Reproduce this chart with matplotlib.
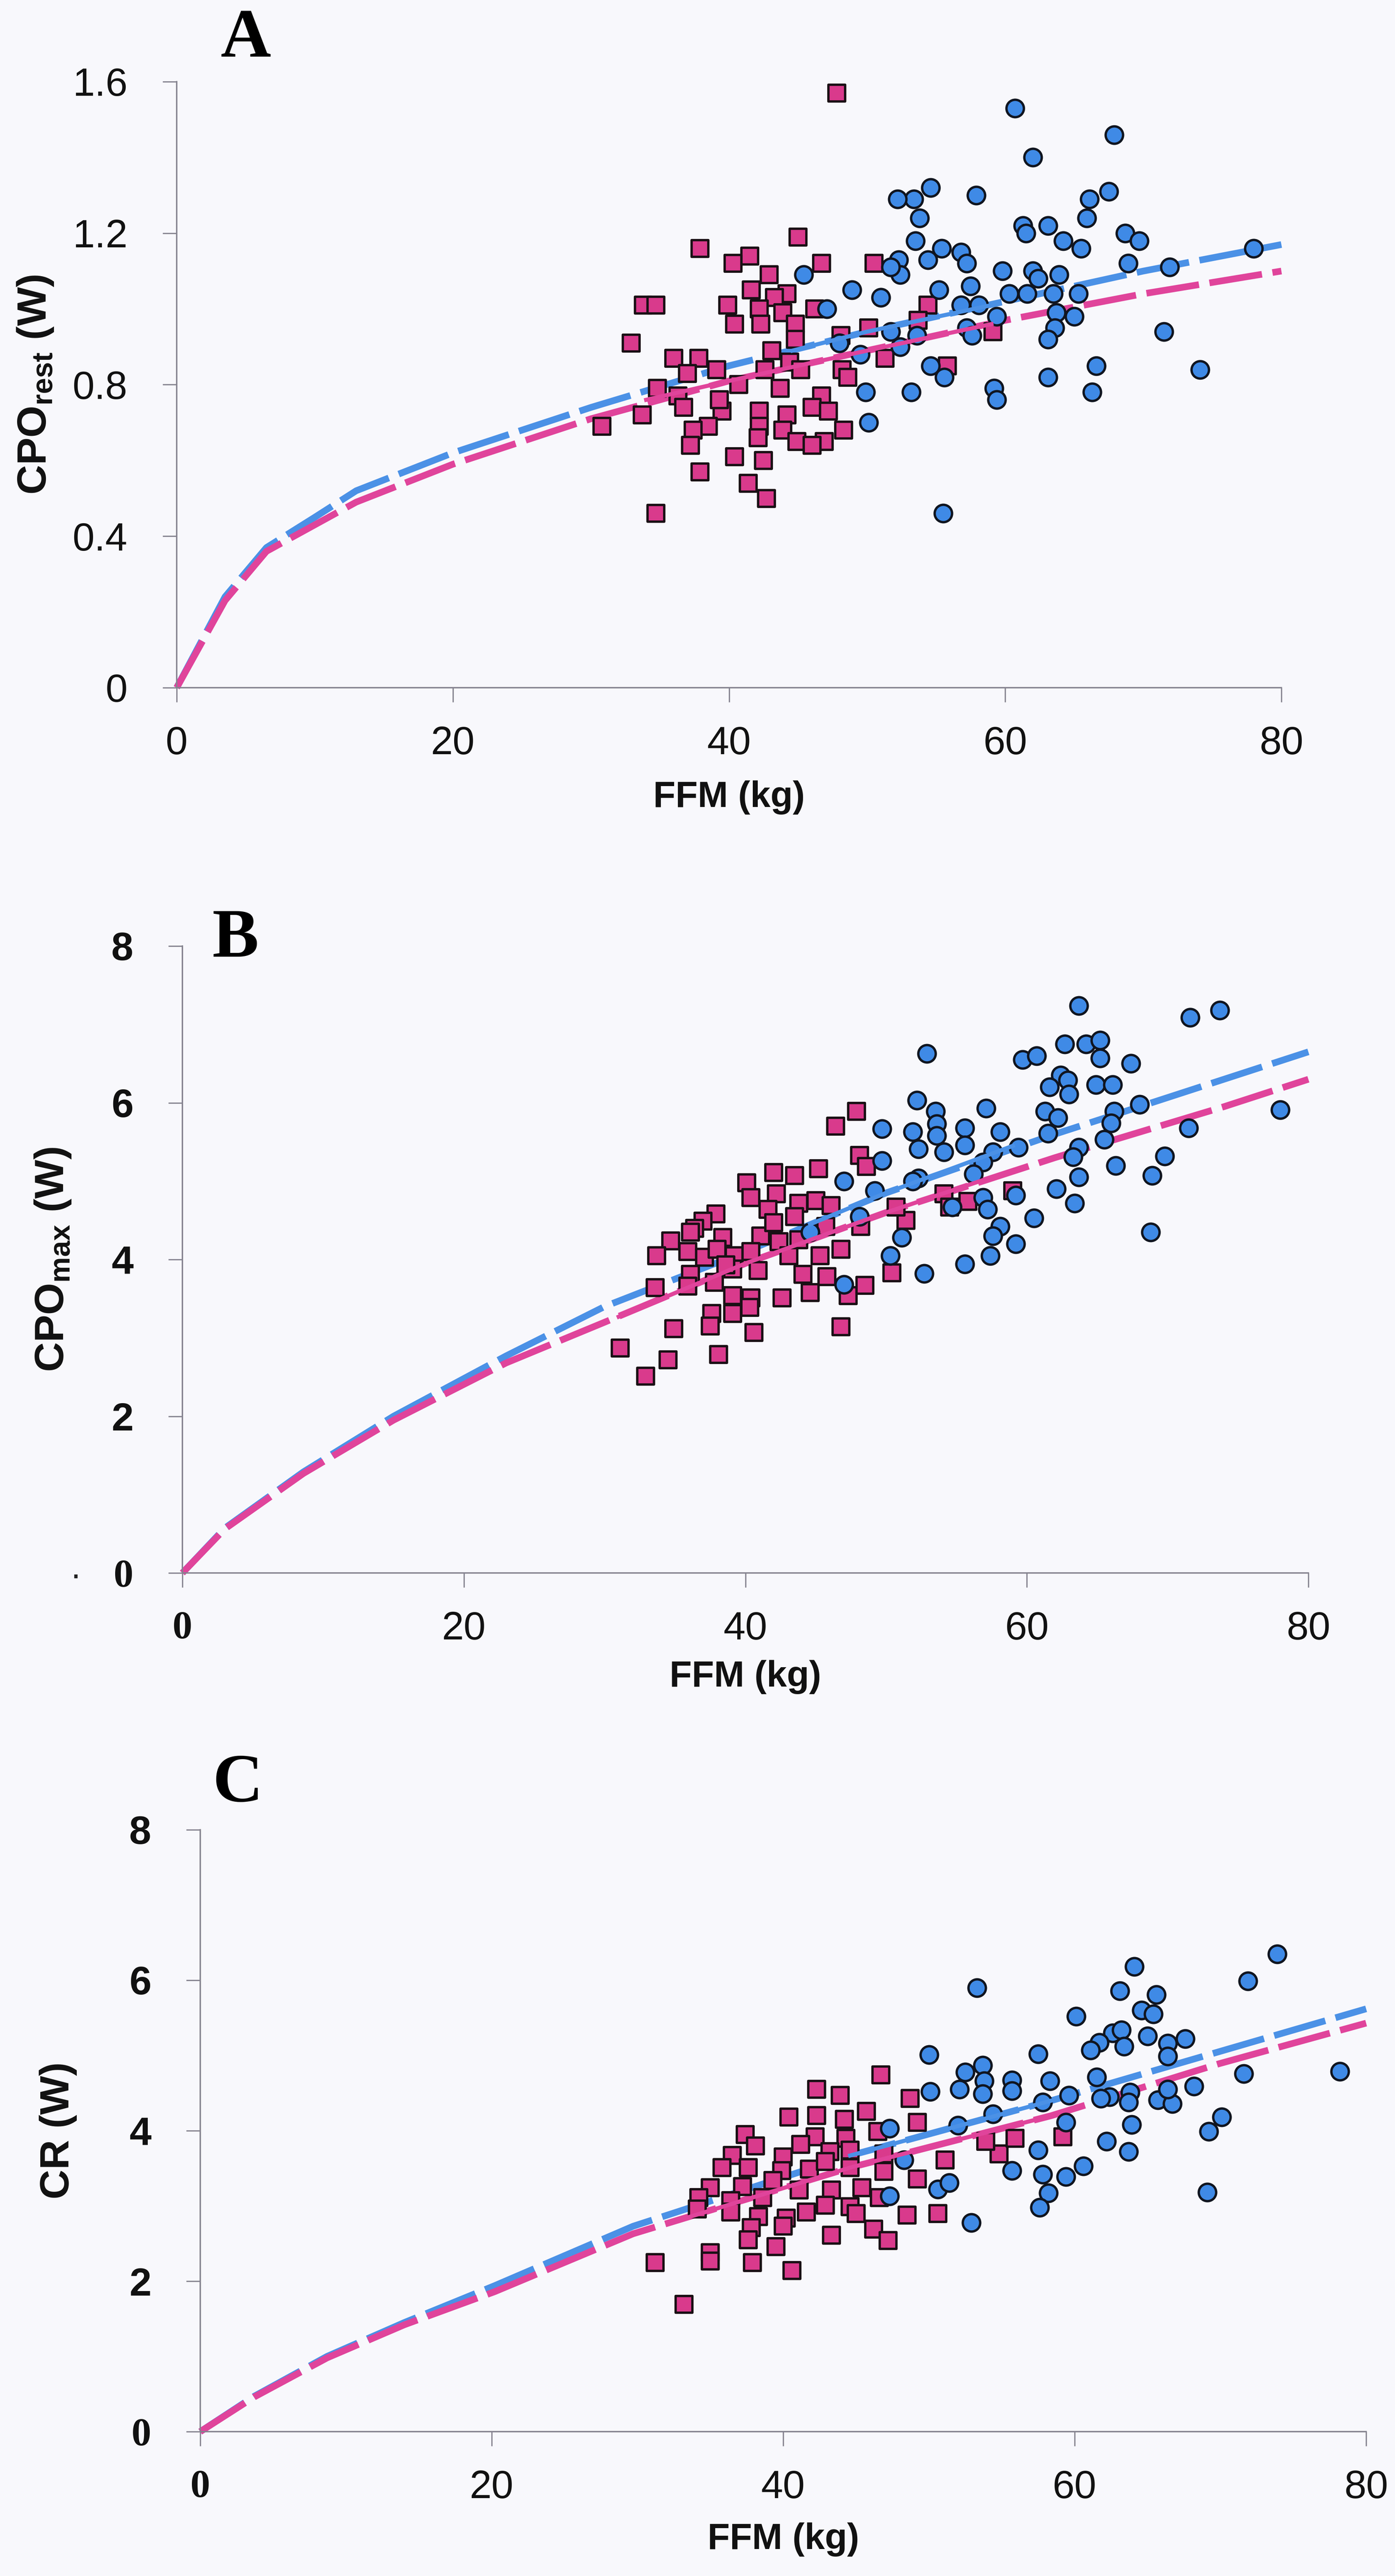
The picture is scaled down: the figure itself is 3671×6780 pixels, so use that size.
import matplotlib
matplotlib.use('Agg')
import matplotlib.pyplot as plt

plt.rcParams['font.family'] = ['Liberation Sans', 'DejaVu Sans']
plt.rcParams['mathtext.fontset'] = 'custom'
plt.rcParams['mathtext.rm'] = 'Liberation Sans:bold'
plt.rcParams['mathtext.it'] = 'Liberation Sans:bold'
plt.rcParams['mathtext.bf'] = 'Liberation Sans:bold'

#_____________________________________________
# panel A : CPO rest vs FFM
a_blue_x = [60.7, 67.9, 62.0, 54.6, 53.4, 52.2, 57.9, 67.5, 66.1, 53.8, 65.9, 61.3, 61.5, 63.1, 68.7, 69.7, 64.2, 65.5,
            53.5, 55.4, 56.8, 52.3, 54.4, 57.2, 68.9, 71.9, 78.0, 59.8, 62.0, 63.9, 62.4, 52.4, 51.7, 45.4, 48.9, 51.0,
            55.2, 57.5, 60.3, 61.6, 63.5, 65.3, 58.1, 56.8, 63.7, 65.0, 59.4, 57.2, 63.6, 51.7, 53.6, 52.4, 57.6, 63.1,
            71.5, 47.1, 54.6, 55.6, 66.6, 63.1, 74.1, 49.9, 53.2, 59.2, 59.4, 66.3, 50.1, 55.5, 49.5, 48.0]
a_blue_y = [1.53, 1.46, 1.40, 1.32, 1.29, 1.29, 1.30, 1.31, 1.29, 1.24, 1.24, 1.22, 1.20, 1.22, 1.20, 1.18, 1.18, 1.16,
            1.18, 1.16, 1.15, 1.13, 1.13, 1.12, 1.12, 1.11, 1.16, 1.10, 1.10, 1.09, 1.08, 1.09, 1.11, 1.09, 1.05, 1.03,
            1.05, 1.06, 1.04, 1.04, 1.04, 1.04, 1.01, 1.01, 0.99, 0.98, 0.98, 0.95, 0.95, 0.94, 0.93, 0.90, 0.93, 0.92,
            0.94, 1.00, 0.85, 0.82, 0.85, 0.82, 0.84, 0.78, 0.78, 0.79, 0.76, 0.78, 0.70, 0.46, 0.88, 0.91]
a_pink_x = [47.8, 37.9, 45.0, 41.5, 40.3, 46.7, 50.5, 42.9, 41.6, 44.2, 43.3, 33.8, 34.7, 39.9, 42.2, 46.2, 43.9, 54.4,
            53.7, 40.4, 42.3, 44.8, 50.1, 48.1, 59.1, 32.9, 44.8, 36.0, 37.8, 43.1, 44.4, 48.2, 51.3, 55.8, 37.0, 39.1,
            42.6, 45.2, 34.8, 40.7, 43.7, 36.3, 46.7, 36.7, 39.5, 42.2, 44.2, 46.0, 47.2, 33.7, 30.8, 38.5, 37.4, 42.2,
            43.9, 48.3, 44.9, 46.9, 37.2, 40.4, 42.5, 37.9, 41.4, 42.7, 34.7, 39.3, 46.0, 48.6, 42.1]
a_pink_y = [1.57, 1.16, 1.19, 1.14, 1.12, 1.12, 1.12, 1.09, 1.05, 1.04, 1.03, 1.01, 1.01, 1.01, 1.00, 1.00, 0.99, 1.01,
            0.97, 0.96, 0.96, 0.96, 0.95, 0.93, 0.94, 0.91, 0.92, 0.87, 0.87, 0.89, 0.86, 0.84, 0.87, 0.85, 0.83, 0.84,
            0.84, 0.84, 0.79, 0.80, 0.79, 0.77, 0.77, 0.74, 0.73, 0.73, 0.72, 0.74, 0.73, 0.72, 0.69, 0.69, 0.68, 0.69,
            0.68, 0.68, 0.65, 0.65, 0.64, 0.61, 0.60, 0.57, 0.54, 0.50, 0.46, 0.76, 0.64, 0.82, 0.66]
# fitted curves
a_fit_x = [0, 3.5, 6.5, 10, 13, 20, 30, 40, 50, 60, 70, 80]
a_fit_blue = [0, 0.24, 0.37, 0.45, 0.52, 0.62, 0.74, 0.85, 0.94, 1.02, 1.10, 1.17]
a_fit_pink = [0, 0.23, 0.36, 0.43, 0.49, 0.59, 0.71, 0.81, 0.89, 0.97, 1.04, 1.10]
a_seg_blue_x = [44.6, 50, 59]
a_seg_blue_y = [0.89, 0.94, 1.01]
a_seg_pink_x = [34, 40, 50, 59]
a_seg_pink_y = [0.76, 0.81, 0.89, 0.96]

#_____________________________________________
# panel B : CPO max vs FFM
b_blue_x = [63.7, 71.6, 73.7, 52.9, 59.7, 60.7, 62.7, 64.2, 65.2, 65.2, 67.4, 62.4, 62.9, 61.6, 63.0, 64.9, 66.1, 52.2,
            53.5, 57.1, 61.3, 62.2, 68.0, 66.2, 78.0, 49.7, 51.9, 53.6, 53.6, 55.6, 58.1, 66.0, 71.5, 61.5, 65.5, 52.3,
            54.1, 55.6, 57.6, 59.4, 63.7, 63.3, 69.8, 49.7, 56.9, 66.3, 68.9, 47.0, 52.3, 56.2, 63.7, 62.1, 59.2, 56.9,
            54.7, 57.2, 63.4, 49.2, 48.1, 60.5, 58.1, 57.6, 68.8, 51.1, 59.2, 57.4, 50.3, 55.6, 52.7, 47.0, 51.9, 44.6]
b_blue_y = [7.24, 7.09, 7.18, 6.63, 6.55, 6.60, 6.75, 6.75, 6.80, 6.57, 6.50, 6.35, 6.29, 6.20, 6.11, 6.23, 6.23, 6.03,
            5.89, 5.93, 5.89, 5.81, 5.98, 5.89, 5.91, 5.67, 5.63, 5.73, 5.58, 5.68, 5.63, 5.74, 5.68, 5.61, 5.53, 5.41,
            5.37, 5.46, 5.37, 5.43, 5.43, 5.31, 5.32, 5.26, 5.24, 5.20, 5.07, 5.00, 5.04, 5.09, 5.05, 4.90, 4.82, 4.79,
            4.67, 4.64, 4.72, 4.88, 4.55, 4.53, 4.42, 4.30, 4.35, 4.28, 4.20, 4.05, 4.05, 3.94, 3.82, 3.68, 5.00, 4.35]
b_pink_x = [47.9, 46.4, 48.1, 48.6, 42.0, 43.5, 45.2, 40.1, 40.4, 42.2, 43.8, 45.0, 46.1, 41.6, 43.5, 37.9, 37.0, 36.4,
            36.1, 38.4, 41.1, 42.4, 34.7, 33.7, 35.9, 37.1, 38.0, 39.2, 40.4, 43.1, 45.3, 46.8, 43.8, 45.7, 48.2, 51.4,
            50.7, 54.1, 54.5, 55.8, 36.1, 37.8, 39.1, 40.9, 44.1, 45.8, 33.6, 35.9, 39.1, 40.4, 42.6, 44.6, 47.3, 48.5,
            50.4, 37.6, 39.1, 40.3, 37.5, 40.6, 34.9, 46.8, 31.1, 34.5, 38.1, 32.9, 59.0, 42.0, 38.6]
b_pink_y = [5.89, 5.70, 5.33, 5.19, 5.11, 5.07, 5.16, 4.98, 4.79, 4.84, 4.72, 4.75, 4.69, 4.64, 4.55, 4.58, 4.49, 4.40,
            4.35, 4.28, 4.30, 4.23, 4.24, 4.05, 4.10, 4.03, 4.13, 4.05, 4.10, 4.05, 4.05, 4.13, 4.25, 4.42, 4.42, 4.50,
            4.67, 4.84, 4.67, 4.74, 3.81, 3.71, 3.88, 3.86, 3.81, 3.78, 3.64, 3.66, 3.54, 3.51, 3.51, 3.58, 3.54, 3.67,
            3.83, 3.31, 3.31, 3.39, 3.15, 3.07, 3.12, 3.14, 2.87, 2.72, 2.79, 2.51, 4.88, 4.47, 3.93]
b_fit_x = [0, 3, 8.6, 15, 23, 30, 40, 50, 62, 74, 80]
b_fit_blue = [0, 0.57, 1.29, 2.0, 2.77, 3.4, 4.1, 4.85, 5.6, 6.3, 6.65]
b_fit_pink = [0, 0.56, 1.27, 1.95, 2.68, 3.2, 3.95, 4.6, 5.3, 5.95, 6.3]
b_seg_blue_x = [44.6, 50, 59]
b_seg_blue_y = [4.45, 4.85, 5.45]
b_seg_pink_x = [31, 40, 50, 59]
b_seg_pink_y = [3.27, 3.95, 4.6, 5.14]

#_____________________________________________
# panel C : CR vs FFM
c_blue_x = [73.9, 64.1, 71.9, 53.3, 63.1, 65.6, 64.6, 65.4, 60.1, 62.6, 63.2, 61.7, 63.4, 61.1, 65.0, 67.6, 66.4, 66.4,
            50.0, 57.5, 52.5, 53.7, 53.8, 55.7, 58.3, 61.5, 71.6, 78.2, 52.1, 50.1, 53.7, 55.7, 59.6, 63.8, 62.4, 61.8,
            63.7, 65.7, 66.7, 66.4, 68.2, 57.8, 54.4, 59.4, 70.1, 69.2, 63.9, 52.0, 47.3, 62.2, 63.7, 57.5, 60.6, 55.7,
            57.8, 59.4, 50.6, 51.4, 58.2, 69.1, 57.6, 52.9, 47.3, 48.3]
c_blue_y = [6.35, 6.18, 5.99, 5.90, 5.86, 5.81, 5.60, 5.55, 5.52, 5.30, 5.34, 5.17, 5.12, 5.07, 5.26, 5.22, 5.16, 4.99,
            5.01, 5.02, 4.78, 4.87, 4.66, 4.67, 4.66, 4.71, 4.76, 4.79, 4.55, 4.52, 4.49, 4.53, 4.47, 4.51, 4.45, 4.43,
            4.38, 4.41, 4.36, 4.55, 4.59, 4.38, 4.22, 4.11, 4.18, 3.99, 4.08, 4.07, 4.03, 3.86, 3.72, 3.74, 3.53, 3.47,
            3.42, 3.39, 3.22, 3.31, 3.17, 3.18, 2.98, 2.78, 3.13, 3.61]
c_pink_x = [46.7, 42.3, 43.9, 48.7, 40.4, 42.3, 44.2, 45.7, 49.2, 37.4, 42.2, 44.3, 46.5, 41.2, 38.1, 36.5, 40.0, 43.2,
            44.6, 46.9, 51.1, 54.8, 55.9, 59.2, 53.9, 37.6, 39.9, 41.8, 44.6, 46.9, 35.0, 37.2, 39.3, 41.1, 43.3, 45.4,
            34.2, 36.4, 38.6, 42.9, 44.6, 46.6, 34.1, 36.4, 38.3, 40.2, 41.6, 45.0, 48.5, 50.6, 37.8, 40.0, 43.3, 46.2,
            47.2, 37.6, 39.5, 35.0, 37.9, 35.0, 31.2, 40.6, 33.2, 35.8, 42.9, 49.2]
c_pink_y = [4.74, 4.55, 4.47, 4.43, 4.18, 4.20, 4.15, 4.26, 4.11, 3.95, 3.92, 3.90, 3.99, 3.82, 3.80, 3.67, 3.65, 3.72,
            3.74, 3.69, 3.61, 3.69, 3.90, 3.92, 3.86, 3.51, 3.47, 3.49, 3.51, 3.46, 3.24, 3.26, 3.34, 3.21, 3.21, 3.24,
            3.11, 3.07, 3.11, 3.01, 2.99, 3.11, 2.96, 2.92, 2.86, 2.84, 2.92, 2.90, 2.88, 2.90, 2.71, 2.73, 2.61, 2.69,
            2.54, 2.55, 2.46, 2.38, 2.25, 2.27, 2.25, 2.14, 1.69, 3.51, 3.59, 3.36]
c_fit_x = [0, 3.7, 8.7, 14, 20.2, 29.7, 44.6, 58.4, 69.9, 80]
c_fit_blue = [0, 0.47, 1.0, 1.45, 1.94, 2.73, 3.67, 4.4, 5.05, 5.62]
c_fit_pink = [0, 0.46, 0.98, 1.42, 1.86, 2.63, 3.51, 4.2, 4.89, 5.43]
c_seg_blue_x = [44.6, 58.4]
c_seg_blue_y = [3.67, 4.4]
c_seg_pink_x = [33.5, 44.6, 58.4]
c_seg_pink_y = [2.85, 3.51, 4.2]

#_____________________________________________
blue = '#3f8ae6'
pink = '#d93a8c'
blue_line = '#4b91e6'
pink_line = '#e0449b'
axis_col = '#85838f'

W, H = 3671, 6780
fig = plt.figure(figsize=(W / 300, H / 300), dpi=300, facecolor='#f8f8fc')


def panel(rect, bx, by, px, py, fx, fb, fp, sbx, sby, spx, spy, ylim, yticks, ylabels,
          ylab, ylab_x, xlab_y, bold_y=False):
    ax = fig.add_axes(rect)
    ax.set_facecolor('none')
    # fitted curves, dashed, behind the points
    ax.plot(fx, fb, color=blue_line, lw=4.2, dashes=(8, 1.6), zorder=2, clip_on=False,
            solid_capstyle='butt', dash_capstyle='butt')
    ax.plot(fx, fp, color=pink_line, lw=4.2, dashes=(8, 1.6), zorder=2, clip_on=False,
            solid_capstyle='butt', dash_capstyle='butt')
    ax.scatter(px, py, marker='s', s=10.5 ** 2, c=pink, edgecolors='#1a1015', linewidths=1.5, zorder=3)
    ax.scatter(bx, by, marker='o', s=11 ** 2, c=blue, edgecolors='#101520', linewidths=1.5, zorder=3)
    ax.plot(sbx, sby, color=blue_line, lw=2.6, zorder=4)
    ax.plot(spx, spy, color=pink_line, lw=2.6, zorder=4)

    ax.set_xlim(0, 80)
    ax.set_ylim(*ylim)
    ax.set_xticks([0, 20, 40, 60, 80])
    ax.set_yticks(yticks)
    ax.set_yticklabels(ylabels)
    for s in ['top', 'right']:
        ax.spines[s].set_visible(False)
    for s in ['left', 'bottom']:
        ax.spines[s].set_color(axis_col)
        ax.spines[s].set_linewidth(0.9)
    ax.tick_params(direction='out', length=9, width=0.8, color=axis_col, labelsize=25, labelcolor='#111111')
    ax.tick_params(axis='y', pad=22)
    ax.tick_params(axis='x', pad=15)
    if bold_y:
        for t in ax.get_yticklabels():
            t.set_fontweight('bold')

    ax.set_ylabel(ylab, fontsize=26, fontweight='bold', color='#111111')
    ax.yaxis.set_label_coords(ylab_x, 0.5)
    ax.yaxis.label.set_verticalalignment('center')
    ax.set_xlabel('FFM (kg)', fontsize=23, fontweight='bold', color='#111111')
    ax.xaxis.set_label_coords(0.5, xlab_y)
    ax.xaxis.label.set_verticalalignment('center')
    return ax


ax_a = panel([465 / W, 1 - 1810 / H, 2907 / W, 1595 / H],
             a_blue_x, a_blue_y, a_pink_x, a_pink_y, a_fit_x, a_fit_blue, a_fit_pink,
             a_seg_blue_x, a_seg_blue_y, a_seg_pink_x, a_seg_pink_y,
             (0, 1.6), [0, 0.4, 0.8, 1.2, 1.6], ['0', '0.4', '0.8', '1.2', '1.6'],
             r'CPO$_\mathrm{rest}$ (W)', -0.128, -0.181)

ax_b = panel([480 / W, 1 - 4140 / H, 2963 / W, 1650 / H],
             b_blue_x, b_blue_y, b_pink_x, b_pink_y, b_fit_x, b_fit_blue, b_fit_pink,
             b_seg_blue_x, b_seg_blue_y, b_seg_pink_x, b_seg_pink_y,
             (0, 8), [0, 2, 4, 6, 8], ['0', '2', '4', '6', '8'],
             r'CPO$_\mathrm{max}$ (W)', -0.115, -0.166, bold_y=True)

ax_c = panel([527 / W, 1 - 6400 / H, 3068 / W, 1584 / H],
             c_blue_x, c_blue_y, c_pink_x, c_pink_y, c_fit_x, c_fit_blue, c_fit_pink,
             c_seg_blue_x, c_seg_blue_y, c_seg_pink_x, c_seg_pink_y,
             (0, 8), [0, 2, 4, 6, 8], ['0', '2', '4', '6', '8'],
             'CR (W)', -0.122, -0.179, bold_y=True)

# zero labels of B and C are set in a serif face in the scan
for ax in [ax_b, ax_c]:
    for t in [ax.get_xticklabels()[0], ax.get_yticklabels()[0]]:
        t.set_fontfamily('Liberation Serif')
        t.set_fontweight('bold')

# panel letters
fig.text(647 / W, 1 - 105 / H, 'A', family='Liberation Serif', fontweight='bold', fontsize=44,
         ha='center', va='center')
fig.text(620 / W, 1 - 2474 / H, 'B', family='Liberation Serif', fontweight='bold', fontsize=44,
         ha='center', va='center')
fig.text(626 / W, 1 - 4697 / H, 'C', family='Liberation Serif', fontweight='bold', fontsize=44,
         ha='center', va='center')
fig.text(199 / W, 1 - 4130 / H, '.', fontsize=22, ha='center', va='center', color='#222222')

fig.savefig('out.png', dpi=300, facecolor=fig.get_facecolor())
